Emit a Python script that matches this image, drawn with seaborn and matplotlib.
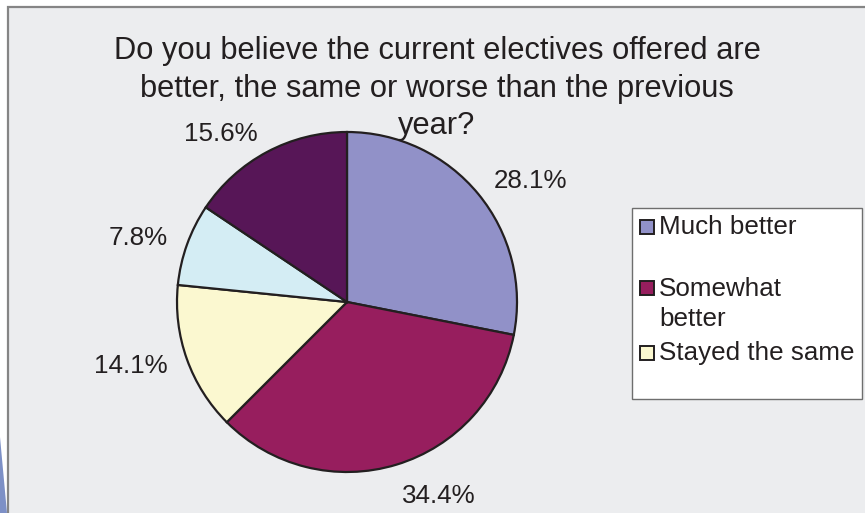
import numpy as np
import matplotlib
matplotlib.use("Agg")
import matplotlib.pyplot as plt
from matplotlib.patches import Rectangle, Polygon
import seaborn as sns

# Survey responses (n = 64)
categories = ["Much better", "Somewhat better", "Stayed the same",
              "Somewhat worse", "Much worse"]
shares = [28.1, 34.4, 14.1, 7.8, 15.6]
legend_labels = ["Much better", "Somewhat\nbetter", "Stayed the same"]
title_lines = ["Do you believe the current electives offered are",
               "better, the same or worse than the previous",
               "year?"]

sns.set_theme(style="white")
plt.rcParams["font.family"] = ["Liberation Sans", "DejaVu Sans"]

palette = sns.color_palette(["#9191C8", "#971E5E", "#FBF8D0", "#D4EDF4", "#571657"])

W, H = 865, 513
fig = plt.figure(figsize=(W / 100, H / 100), dpi=100, facecolor="white")

def fx(px):
    return px / W

def fy(py):
    return 1 - py / H

# chart area panel
fig.patches.append(Rectangle((fx(8), fy(520)), fx(870) - fx(8), fy(7) - fy(520),
                             transform=fig.transFigure, facecolor="#ECEDEF",
                             edgecolor="#858585", linewidth=1.6, zorder=-2))
# slide decoration at lower left
fig.patches.append(Polygon([(fx(0), fy(437)), (fx(0), fy(513)), (fx(7.5), fy(513))],
                           closed=True, transform=fig.transFigure,
                           facecolor="#7D90C6", edgecolor="none", zorder=-1))

# title, one text per line, baselines 37.5 px apart
for i, line in enumerate(title_lines):
    fig.text(fx(437), fy(59 + 37.5 * i), line, ha="center", va="baseline",
             fontsize=22.2, color="#231F20", zorder=3)

# pie axes: centre (347, 302) px, radius 170 px
cx, cy, r, half = 347, 302, 170, 200
ax = fig.add_axes([fx(cx - half), fy(cy + half), 2 * half / W, 2 * half / H])
ax.set_zorder(2)
ax.axis("off")
ax.patch.set_alpha(0)

wedges, _ = ax.pie(shares, colors=palette, startangle=90, counterclock=False,
                   radius=1.0, wedgeprops=dict(edgecolor="#231F20", linewidth=1.6))
ax.set_xlim(-half / r, half / r)
ax.set_ylim(-half / r, half / r)
ax.set_aspect("equal")

for w, v in zip(wedges, shares):
    ang = np.deg2rad((w.theta1 + w.theta2) / 2)
    c, s = np.cos(ang), np.sin(ang)
    x, y = 1.12 * c, 1.12 * s
    ha = "left" if c > 0.2 else ("right" if c < -0.2 else "center")
    va = "bottom" if s > 0.9 else ("top" if s < -0.9 else "center")
    ax.text(x, y, f"{v:.1f}%", ha=ha, va=va, fontsize=18.7, color="#231F20")

# legend box (only the first entries fit)
fig.patches.append(Rectangle((fx(632), fy(399)), fx(862) - fx(632), fy(208) - fy(399),
                             transform=fig.transFigure, facecolor="white",
                             edgecolor="#6E6E6E", linewidth=1.0, zorder=1))
ys = [227, 288, 353]
for lab, col, y in zip(legend_labels, palette, ys):
    fig.patches.append(Rectangle((fx(640), fy(y + 7)), fx(654) - fx(640), fy(y - 7) - fy(y + 7),
                                 transform=fig.transFigure, facecolor=col,
                                 edgecolor="#231F20", linewidth=1.4, zorder=2))
    ty = y + 16 if "\n" in lab else y
    fig.text(fx(659), fy(ty), lab, ha="left", va="center",
             fontsize=18.7, color="#231F20", linespacing=1.33, zorder=3)

fig.savefig("out.png", dpi=100, facecolor="white")
